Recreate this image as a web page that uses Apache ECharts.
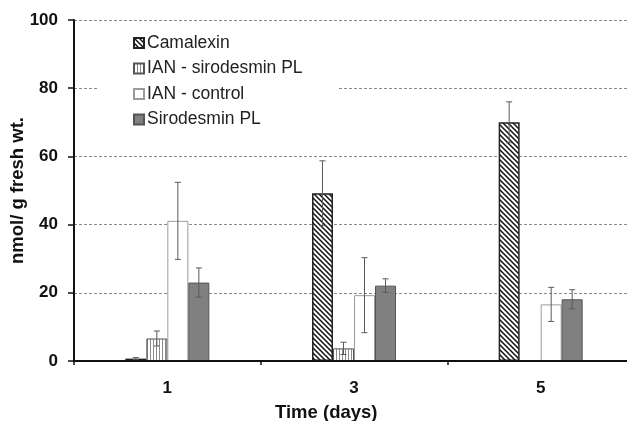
<!DOCTYPE html>
<html>
<head>
<meta charset="utf-8">
<script src="https://cdn.jsdelivr.net/npm/echarts@6/dist/echarts.min.js"></script>
<style>
  html, body { margin: 0; padding: 0; background: #fff; }
  #chart { width: 627px; height: 421px; }
</style>
</head>
<body>
<div id="chart"></div>
<script>
// Sampling days
var days = ['1', '3', '5'];

// Metabolite levels (nmol / g fresh wt.) and their error margins
var seriesNames = ['Camalexin', 'IAN - sirodesmin PL', 'IAN - control', 'Sirodesmin PL'];
var camalexin      = [0.7, 49.2, 70.0];
var camalexinErr   = [0.3, 9.5, 6.0];
var ianSirodesmin  = [6.6, 3.7, null];
var ianSirodesminErr = [2.2, 1.8, null];
var ianControl     = [41.1, 19.3, 16.6];
var ianControlErr  = [11.3, 11.0, 5.0];
var sirodesmin     = [23.0, 22.1, 18.1];
var sirodesminErr  = [4.3, 2.0, 2.8];

var yTicks = [0, 20, 40, 60, 80, 100];

var FONT = '"Liberation Sans", Arial, sans-serif';

// Fill patterns
function diagonalPattern() {
  var s = 5, c = document.createElement('canvas');
  c.width = s; c.height = s;
  var g = c.getContext('2d');
  g.fillStyle = '#fff'; g.fillRect(0, 0, s, s);
  g.strokeStyle = '#111'; g.lineWidth = 1.5;
  g.beginPath();
  g.moveTo(-1, -1); g.lineTo(s + 1, s + 1);
  g.moveTo(-1, s - 1); g.lineTo(1, s + 1);
  g.moveTo(s - 1, -1); g.lineTo(s + 1, 1);
  g.stroke();
  return c;
}
function verticalPattern() {
  var c = document.createElement('canvas');
  c.width = 3; c.height = 3;
  var g = c.getContext('2d');
  g.fillStyle = '#fff'; g.fillRect(0, 0, 3, 3);
  g.fillStyle = '#8a8a8a'; g.fillRect(0, 0, 1, 3);
  return c;
}

var values = [camalexin, ianSirodesmin, ianControl, sirodesmin];
var errors = [camalexinErr, ianSirodesminErr, ianControlErr, sirodesminErr];
var styles = [
  { color: { image: diagonalPattern(), repeat: 'repeat' }, borderColor: '#222', borderWidth: 1.5 },
  { color: { image: verticalPattern(), repeat: 'repeat' }, borderColor: '#555', borderWidth: 1 },
  { color: '#ffffff', borderColor: '#9a9a9a', borderWidth: 1 },
  { color: '#808080', borderColor: '#555', borderWidth: 1 }
];

var BAR_W = 21;

var series = seriesNames.map(function (name, i) {
  return {
    name: name,
    type: 'bar',
    barWidth: BAR_W,
    barGap: '0%',
    data: values[i],
    itemStyle: styles[i],
    emphasis: { disabled: true },
    z: 2
  };
});

// Error bars: [categoryIndex, value, error, seriesIndex]
var errData = [];
values.forEach(function (arr, si) {
  arr.forEach(function (v, ci) {
    if (v != null && errors[si][ci] != null) errData.push([ci, v, errors[si][ci], si]);
  });
});

series.push({
  type: 'custom',
  name: 'errors',
  data: errData,
  z: 5,
  silent: true,
  encode: { x: 0, y: 1 },
  renderItem: function (params, api) {
    var ci = api.value(0), v = api.value(1), e = api.value(2), si = api.value(3);
    var base = api.coord([ci, v]);
    var cx = base[0] + (si - 1.5) * BAR_W;
    var top = api.coord([ci, v + e])[1];
    var bot = api.coord([ci, Math.max(v - e, 0)])[1];
    var cap = 3;
    var st = { stroke: '#5a5a5a', lineWidth: 1 };
    return {
      type: 'group',
      children: [
        { type: 'line', shape: { x1: cx, y1: top, x2: cx, y2: bot }, style: st },
        { type: 'line', shape: { x1: cx - cap, y1: top, x2: cx + cap, y2: top }, style: st },
        { type: 'line', shape: { x1: cx - cap, y1: bot, x2: cx + cap, y2: bot }, style: st }
      ]
    };
  }
});

var chart = echarts.init(document.getElementById('chart'), null, { renderer: 'canvas' });
chart.setOption({
  animation: false,
  backgroundColor: '#fff',
  textStyle: { fontFamily: FONT },
  title: {
    text: 'Time (days)',
    left: 275,
    top: 403,
    padding: 0,
    textStyle: { fontSize: 18.5, fontWeight: 'bold', color: '#111', fontFamily: FONT }
  },
  legend: {
    data: seriesNames.map(function (n) { return { name: n, icon: 'rect' }; }),
    orient: 'vertical',
    left: 97,
    top: 28,
    padding: [6, 35, 6, 36],
    backgroundColor: '#fff',
    z: 20,
    itemWidth: 10,
    itemHeight: 10,
    itemGap: 7.5,
    selectedMode: false,
    textStyle: { fontSize: 17.5, color: '#222', padding: [0, 0, 0, -2], lineHeight: 17,
      fontFamily: FONT }
  },
  grid: { left: 74, width: 560, top: 20, bottom: 60, containLabel: false, outerBoundsMode: 'none' },
  xAxis: {
    type: 'category',
    data: days,
    axisLine: { lineStyle: { color: '#111', width: 2 } },
    axisTick: { show: true, length: 4, alignWithLabel: false, lineStyle: { color: '#111', width: 1.5 } },
    axisLabel: { fontSize: 17, fontWeight: 'bold', color: '#111', margin: 19 },
    z: 10
  },
  yAxis: {
    type: 'value',
    min: yTicks[0],
    max: yTicks[yTicks.length - 1],
    interval: yTicks[1] - yTicks[0],
    name: 'nmol/ g fresh wt.',
    nameLocation: 'middle',
    nameGap: 47,
    nameMoveOverlap: false,
    nameTextStyle: { fontSize: 18.5, fontWeight: 'bold', color: '#111' },
    axisLine: { show: true, lineStyle: { color: '#111', width: 2 } },
    axisTick: { show: true, length: 6, inside: false, lineStyle: { color: '#111', width: 1.5 } },
    axisLabel: { fontSize: 17, fontWeight: 'bold', color: '#111', margin: 16 },
    splitLine: { show: true, lineStyle: { color: '#8a8a8a', type: [3, 2], width: 1 } },
    z: 1
  },
  series: series
});
</script>
</body>
</html>
